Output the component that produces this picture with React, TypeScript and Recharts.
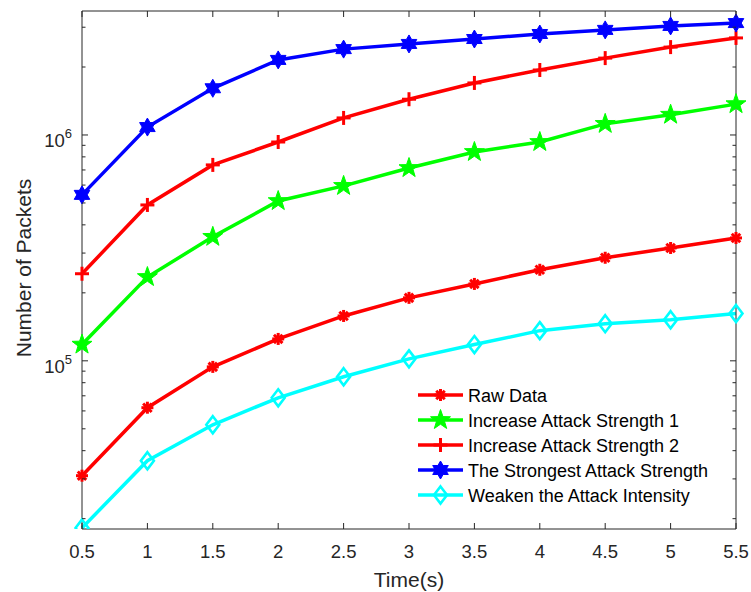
import React from "react";
import { LineChart, Line, XAxis, YAxis, Legend } from "recharts";

const timeSteps = [0.5, 1, 1.5, 2, 2.5, 3, 3.5, 4, 4.5, 5, 5.5];
const rawData = [31000, 62000, 94000, 125000, 158000, 190000, 219000, 253000, 286000, 316000, 350000];
const increase1 = [118000, 235000, 354000, 510000, 595000, 714000, 841000, 931000, 1120000, 1230000, 1370000];
const increase2 = [243000, 490000, 737000, 931000, 1190000, 1440000, 1700000, 1940000, 2190000, 2450000, 2690000];
const strongest = [543000, 1084000, 1610000, 2150000, 2400000, 2530000, 2660000, 2800000, 2920000, 3040000, 3130000];
const weaken = [18200, 36100, 52100, 68600, 85000, 102000, 118000, 136000, 146000, 152000, 162000];

const xTicks = [0.5, 1, 1.5, 2, 2.5, 3, 3.5, 4, 4.5, 5, 5.5];
const yTicks = [
  20000, 30000, 40000, 50000, 60000, 70000, 80000, 90000,
  100000, 200000, 300000, 400000, 500000, 600000, 700000, 800000, 900000,
  1000000, 2000000, 3000000,
];

const data = timeSteps.map((t, i) => ({
  t,
  raw: rawData[i],
  inc1: increase1[i],
  inc2: increase2[i],
  strong: strongest[i],
  weak: weaken[i],
}));

type MarkerKind = "asterisk" | "pentagram" | "plus" | "hexagram" | "diamond";

const series: { key: string; name: string; color: string; marker: MarkerKind }[] = [
  { key: "raw", name: "Raw Data", color: "#ff0000", marker: "asterisk" },
  { key: "inc1", name: "Increase Attack Strength 1", color: "#00ff00", marker: "pentagram" },
  { key: "inc2", name: "Increase Attack Strength 2", color: "#ff0000", marker: "plus" },
  { key: "strong", name: "The Strongest Attack Strength", color: "#0000ff", marker: "hexagram" },
  { key: "weak", name: "Weaken the Attack Intensity", color: "#00ffff", marker: "diamond" },
];

const AXIS = "#262626";
const FONT = '"Liberation Sans", Arial, Helvetica, sans-serif';

function starPoints(cx: number, cy: number, n: number, outer: number, inner: number) {
  const pts: string[] = [];
  for (let i = 0; i < n * 2; i++) {
    const r = i % 2 === 0 ? outer : inner;
    const a = -Math.PI / 2 + (i * Math.PI) / n;
    pts.push(`${cx + r * Math.cos(a)},${cy + r * Math.sin(a)}`);
  }
  return pts.join(" ");
}

function Marker({ kind, cx, cy, color }: { kind: MarkerKind; cx: number; cy: number; color: string }) {
  if (cx == null || cy == null) return null;
  switch (kind) {
    case "asterisk": {
      const r = 6;
      return (
        <g stroke={color} strokeWidth={3}>
          {[0, 45, 90, 135].map((deg) => {
            const a = (deg * Math.PI) / 180;
            return (
              <line
                key={deg}
                x1={cx - r * Math.cos(a)}
                y1={cy - r * Math.sin(a)}
                x2={cx + r * Math.cos(a)}
                y2={cy + r * Math.sin(a)}
              />
            );
          })}
        </g>
      );
    }
    case "pentagram":
      return <polygon points={starPoints(cx, cy, 5, 10.5, 4.2)} fill={color} stroke={color} strokeWidth={1} />;
    case "hexagram":
      return <polygon points={starPoints(cx, cy, 6, 9, 5.2)} fill={color} stroke={color} strokeWidth={1} />;
    case "plus":
      return (
        <g stroke={color} strokeWidth={3}>
          <line x1={cx - 7} y1={cy} x2={cx + 7} y2={cy} />
          <line x1={cx} y1={cy - 7} x2={cx} y2={cy + 7} />
        </g>
      );
    case "diamond":
      return (
        <polygon
          points={`${cx},${cy - 8.5} ${cx + 6.5},${cy} ${cx},${cy + 8.5} ${cx - 6.5},${cy}`}
          fill="none"
          stroke={color}
          strokeWidth={2.6}
        />
      );
  }
  return null;
}

const isMajor = (v: number) => Math.abs(Math.log10(v) - Math.round(Math.log10(v))) < 1e-9;

function LeftTick(props: any) {
  const { x, y, payload } = props;
  const v = payload.value as number;
  const major = isMajor(v);
  return (
    <g>
      <line x1={x} x2={x + (major ? 6 : 3.5)} y1={y} y2={y} stroke={AXIS} />
      {major && (
        <text x={x - 10} y={y + 12} textAnchor="end" fill={AXIS} fontSize={18.5} fontFamily={FONT}>
          <tspan>10</tspan>
          <tspan dy={-9} fontSize={13}>{Math.round(Math.log10(v))}</tspan>
        </text>
      )}
    </g>
  );
}

function RightTick(props: any) {
  const { x, y, payload } = props;
  const major = isMajor(payload.value as number);
  return <line x1={x} x2={x - (major ? 6 : 3.5)} y1={y} y2={y} stroke={AXIS} />;
}

function BottomTick(props: any) {
  const { x, y, payload } = props;
  return (
    <g>
      <line x1={x} x2={x} y1={y} y2={y - 6} stroke={AXIS} />
      <text x={x} y={y + 29} textAnchor="middle" fill={AXIS} fontSize={18.5} fontFamily={FONT}>
        {String(payload.value)}
      </text>
    </g>
  );
}

function TopTick(props: any) {
  const { x, y } = props;
  return <line x1={x} x2={x} y1={y} y2={y + 6} stroke={AXIS} />;
}

function YTitle(props: any) {
  const vb = props.viewBox || { y: 11, height: 518 };
  const cy = vb.y + vb.height / 2 - 2;
  return (
    <text
      transform={`translate(31, ${cy}) rotate(-90)`}
      textAnchor="middle"
      fill={AXIS}
      fontSize={21}
      fontFamily={FONT}
    >
      Number of Packets
    </text>
  );
}

function renderLegend() {
  return (
    <svg width={320} height={130} style={{ display: "block" }}>
      {series.map((s, i) => {
        const cy = 12 + i * 25;
        return (
          <g key={s.key}>
            <line x1={0} x2={45} y1={cy} y2={cy} stroke={s.color} strokeWidth={3.5} />
            <Marker kind={s.marker} cx={22.5} cy={cy} color={s.color} />
            <text x={50} y={cy + 6.5} fill="#000" fontSize={18} fontFamily={FONT}>
              {s.name}
            </text>
          </g>
        );
      })}
    </svg>
  );
}

export default function App() {
  return (
    <div style={{ position: "absolute", left: 0, top: 0, width: 751, height: 592, background: "#fff" }}>
      <LineChart width={751} height={592} data={data} margin={{ top: 0, right: 0, bottom: 0, left: 0 }}>
        <XAxis
          xAxisId="bottom"
          dataKey="t"
          type="number"
          domain={[0.5, 5.5]}
          ticks={xTicks}
          height={63}
          stroke={AXIS}
          tickLine={false}
          tickSize={0}
          tickMargin={0}
          tick={<BottomTick />}
          interval={0}
          label={{ value: "Time(s)", position: "insideBottom", offset: 5, fill: AXIS, fontSize: 21, fontFamily: FONT }}
        />
        <XAxis
          xAxisId="top"
          orientation="top"
          dataKey="t"
          type="number"
          domain={[0.5, 5.5]}
          ticks={xTicks}
          height={11}
          stroke={AXIS}
          tickLine={false}
          tickSize={0}
          tickMargin={0}
          tick={<TopTick />}
          interval={0}
        />
        <YAxis
          yAxisId="left"
          scale="log"
          type="number"
          domain={[18000, 3540000]}
          allowDataOverflow
          ticks={yTicks}
          width={82}
          stroke={AXIS}
          tickLine={false}
          tickSize={0}
          tickMargin={0}
          tick={<LeftTick />}
          interval={0}
          label={<YTitle />}
        />
        <YAxis
          yAxisId="right"
          orientation="right"
          scale="log"
          type="number"
          domain={[18000, 3540000]}
          allowDataOverflow
          ticks={yTicks}
          width={15}
          stroke={AXIS}
          tickLine={false}
          tickSize={0}
          tickMargin={0}
          tick={<RightTick />}
          interval={0}
        />
        {series.map((s) => (
          <Line
            key={s.key}
            xAxisId="bottom"
            yAxisId="left"
            dataKey={s.key}
            name={s.name}
            stroke={s.color}
            strokeWidth={3.5}
            isAnimationActive={false}
            dot={(p: any) => <Marker key={`${s.key}-${p.index}`} kind={s.marker} cx={p.cx} cy={p.cy} color={s.color} />}
            activeDot={false}
          />
        ))}
        <Legend
          layout="vertical"
          align="center"
          verticalAlign="middle"
          content={renderLegend}
          wrapperStyle={{ left: 418, top: 383, width: 320, height: 130 }}
        />
      </LineChart>
    </div>
  );
}
